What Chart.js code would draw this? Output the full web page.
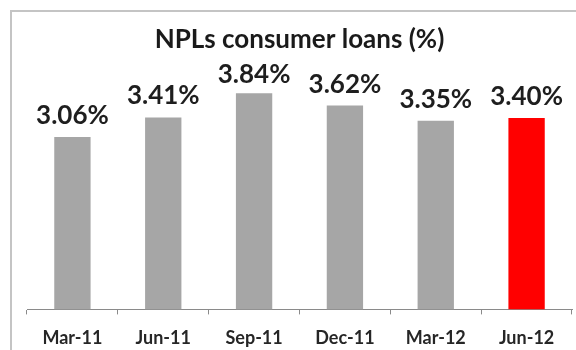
<!DOCTYPE html>
<html>
<head>
<meta charset="utf-8">
<script src="https://cdn.jsdelivr.net/npm/chart.js@4/dist/chart.umd.min.js"></script>
<style>
  body { margin: 0; background: #fff; }
  #wrap { position: relative; width: 576px; height: 350px; overflow: hidden; }
  #frame { position: absolute; left: 10px; top: 10px; width: 620px; height: 400px;
           border-top: 2px solid #c4c4c4; border-left: 2px solid #c4c4c4; }
  #chart { position: absolute; left: 0; top: 0; }
</style>
</head>
<body>
<div id="wrap">
  <div id="frame"></div>
  <canvas id="chart" width="576" height="350"></canvas>
</div>
<script>
// quarters and NPL ratio of consumer loans (%)
var quarters = ['Mar-11', 'Jun-11', 'Sep-11', 'Dec-11', 'Mar-12', 'Jun-12'];
var nplValues = [3.06, 3.41, 3.84, 3.62, 3.35, 3.40];
var barColors = ['#a6a6a6', '#a6a6a6', '#a6a6a6', '#a6a6a6', '#a6a6a6', '#ff0000'];

var FONT = 'Lato, "Open Sans", sans-serif';

// value labels above bars, kept under the title like excel does
var valueLabels = {
    id: 'valueLabels',
    afterDatasetsDraw: function(chart) {
        var ctx = chart.ctx;
        var meta = chart.getDatasetMeta(0);
        ctx.save();
        ctx.font = 'bold 26px ' + FONT;
        ctx.fillStyle = '#1e1e1e';
        ctx.textAlign = 'center';
        ctx.textBaseline = 'alphabetic';
        meta.data.forEach(function(bar, i) {
            var y = Math.max(bar.y - 13, chart.chartArea.top - 1);
            ctx.fillText(nplValues[i].toFixed(2) + '%', bar.x, y);
        });
        ctx.restore();
    }
};

var chart = new Chart(document.getElementById('chart'), {
    type: 'bar',
    data: {
        labels: quarters,
        datasets: [{
            data: nplValues,
            backgroundColor: barColors,
            borderWidth: 0,
            barPercentage: 0.4,
            categoryPercentage: 1.0
        }]
    },
    options: {
        responsive: false,
        animation: false,
        devicePixelRatio: 1,
        layout: { padding: { left: 27, right: 4, top: 0, bottom: -12 } },
        plugins: {
            legend: { display: false },
            tooltip: { enabled: false },
            title: {
                display: true,
                fullSize: false,
                text: 'NPLs consumer loans (%)',
                color: '#1a1a1a',
                font: { family: FONT, size: 26, weight: 'bold', lineHeight: 1.2 },
                padding: { top: 24, bottom: 29 }
            }
        },
        scales: {
            x: {
                grid: { display: true, drawOnChartArea: false, drawTicks: true, tickLength: 5, color: '#8a8a8a', offset: true },
                border: { display: true, color: '#8a8a8a', width: 1 },
                ticks: { color: '#262626', padding: 13, font: { family: FONT, size: 18, weight: 'bold' } }
            },
            y: {
                display: false,
                min: 0,
                max: 4
            }
        }
    },
    plugins: [valueLabels]
});
</script>
</body>
</html>
